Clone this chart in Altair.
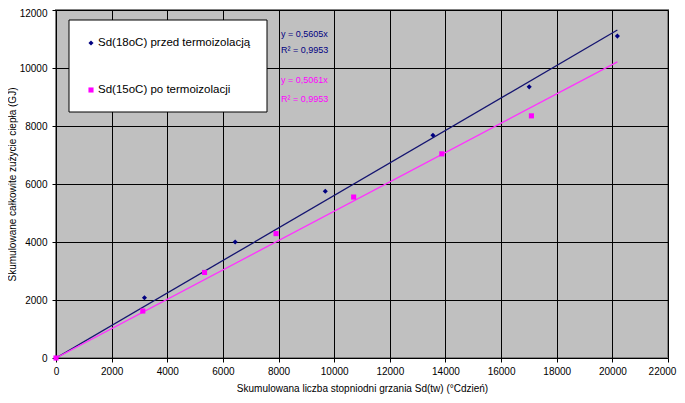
import altair as alt
import pandas as pd

FONT = "Liberation Sans"

series_names = ["Sd(18oC) przed termoizolacją", "Sd(15oC) po termoizolacji"]
series_colors = ["#000080", "#FF00FF"]
series_shapes = ["diamond", "square"]

blue_x = [0, 3180, 6440, 9680, 13550, 17010, 20180]
blue_y = [0, 2080, 4000, 5750, 7680, 9350, 11100]
pink_x = [0, 3120, 5340, 7910, 10700, 13870, 17090]
pink_y = [0, 1620, 2950, 4290, 5550, 7040, 8350]

trend_x = [0, 20180]
trend_blue = [0, 11311]
trend_pink = [0, 10213]

x_ticks = list(range(0, 22001, 2000))
y_ticks = list(range(0, 12001, 2000))

eq_texts = ["y = 0,5605x", "R² = 0,9953", "y = 0,5061x", "R² = 0,9953"]
eq_colors = ["#000080", "#000080", "#FF00FF", "#FF00FF"]

rows = []
for name, xs, ys in [(series_names[0], blue_x, blue_y), (series_names[1], pink_x, pink_y)]:
    for xv, yv in zip(xs, ys):
        rows.append({"series": name, "x": xv, "y": yv})
df = pd.DataFrame(rows)

trend_df_blue = pd.DataFrame({"x": trend_x, "y": trend_blue})
trend_df_pink = pd.DataFrame({"x": trend_x, "y": trend_pink})

xscale = alt.Scale(domain=[0, 22000], nice=False, zero=True)
yscale = alt.Scale(domain=[0, 12000], nice=False, zero=True)

xaxis = alt.Axis(values=x_ticks, format="d", grid=True, gridColor="black", gridWidth=1, gridOpacity=1,
                 tickColor="black", tickSize=4, domain=False, labelFont=FONT, labelFontSize=10,
                 labelColor="black", labelPadding=4, labelFlush=False,
                 labelOffset={"condition": {"test": "datum.value == 22000", "value": -6}, "value": 0},
                 title="Skumulowana liczba stopniodni grzania Sd(tw) (°Cdzień)",
                 titleFont=FONT, titleFontSize=10, titleFontWeight="normal", titleColor="black",
                 titlePadding=7)
yaxis = alt.Axis(values=y_ticks, format="d", grid=True, gridColor="black", gridWidth=1, gridOpacity=1,
                 tickColor="black", tickSize=4, domain=False, labelFont=FONT, labelFontSize=10,
                 labelColor="black", labelPadding=5, labelFlush=False,
                 labelOffset={"condition": {"test": "datum.value == 12000", "value": 3}, "value": 0},
                 title="Skumulowane całkowite zużycie ciepła (GJ)",
                 titleFont=FONT, titleFontSize=10, titleFontWeight="normal", titleColor="black",
                 titlePadding=2)

line_blue = alt.Chart(trend_df_blue).mark_line(strokeWidth=1.3, clip=True).encode(
    x=alt.X("x:Q", scale=xscale, axis=xaxis),
    y=alt.Y("y:Q", scale=yscale, axis=yaxis),
    color=alt.value("#141470"),
)
line_pink = alt.Chart(trend_df_pink).mark_line(strokeWidth=1.3, clip=True).encode(
    x=alt.X("x:Q", scale=xscale, axis=xaxis),
    y=alt.Y("y:Q", scale=yscale, axis=yaxis),
    color=alt.value("#FF33FF"),
)

points = alt.Chart(df).mark_point(filled=True, opacity=1, size=26).encode(
    x=alt.X("x:Q", scale=xscale, axis=xaxis),
    y=alt.Y("y:Q", scale=yscale, axis=yaxis),
    color=alt.Color("series:N", scale=alt.Scale(domain=series_names, range=series_colors), legend=None),
    shape=alt.Shape("series:N", scale=alt.Scale(domain=series_names, range=series_shapes), legend=None),
)

# hand-drawn legend box (as in the reference)
legend_box = alt.Chart(pd.DataFrame({"k": [0]})).mark_rect(
    fill="white", stroke="black", strokeWidth=1
).encode(x=alt.value(13), x2=alt.value(211), y=alt.value(10), y2=alt.value(102))

legend_layers = [legend_box]
for name, col, shp, yy in zip(series_names, series_colors, series_shapes, [33, 80]):
    legend_layers.append(
        alt.Chart(pd.DataFrame({"k": [0]})).mark_point(filled=True, opacity=1, size=26, shape=shp).encode(
            x=alt.value(35), y=alt.value(yy), color=alt.value(col))
    )
    legend_layers.append(
        alt.Chart(pd.DataFrame({"t": [name]})).mark_text(
            align="left", baseline="middle", font=FONT, fontSize=11.5, color="black"
        ).encode(text="t:N", x=alt.value(42), y=alt.value(yy))
    )

eq_pos_y = [24, 40, 70, 89]
eq_layers = []
for t, c, yy in zip(eq_texts, eq_colors, eq_pos_y):
    eq_layers.append(
        alt.Chart(pd.DataFrame({"t": [t]})).mark_text(
            align="left", baseline="middle", font=FONT, fontSize=9
        ).encode(text="t:N", x=alt.value(225), y=alt.value(yy), color=alt.value(c))
    )

chart = alt.layer(line_blue, line_pink, points, *legend_layers, *eq_layers).properties(
    width=612, height=348,
    autosize=alt.AutoSizeParams(type="none"),
    padding={"left": 48, "top": 2, "right": 9, "bottom": 37},
    background="white",
).configure_view(fill="#C0C0C0", stroke="#808080", strokeWidth=2)

chart.save("out.html", embed_options={"renderer": "svg", "actions": False})
